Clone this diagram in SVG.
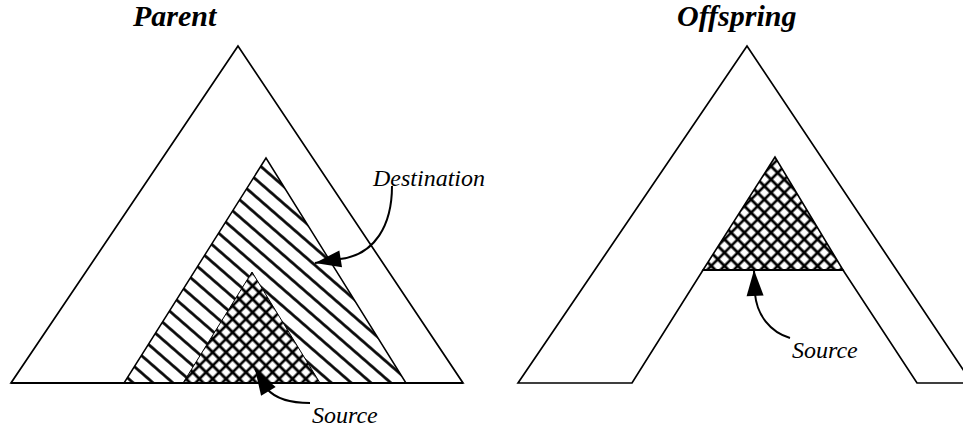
<svg xmlns="http://www.w3.org/2000/svg" width="963" height="429" viewBox="0 0 963 429">
<style>
.outline{fill:#fff;stroke:#000;stroke-width:1.7;stroke-linejoin:miter}
.title{font-family:"Liberation Serif","Times New Roman",serif;font-style:italic;font-weight:bold;font-size:30px;fill:#000}
.lbl{font-family:"Liberation Serif","Times New Roman",serif;font-style:italic;font-size:24px;fill:#000}
.conn{fill:none;stroke:#000;stroke-width:2}
</style>
<defs>
<pattern id="hatch" width="13" height="13" patternUnits="userSpaceOnUse" patternTransform="rotate(41)">
<line x1="0" y1="6.5" x2="13" y2="6.5" stroke="#000" stroke-width="2.7"/>
</pattern>
<pattern id="cross" width="9.4" height="9.4" patternUnits="userSpaceOnUse" patternTransform="rotate(45)">
<path d="M0,4.7 H9.4 M4.7,0 V9.4" stroke="#000" stroke-width="2.6"/>
</pattern>
<marker id="arrow" markerUnits="userSpaceOnUse" markerWidth="28" markerHeight="18" refX="26" refY="8.5" orient="auto" overflow="visible">
<path d="M0,0 L26,8.5 L0,17 Z" fill="#000"/>
</marker>
</defs>
<rect width="963" height="429" fill="#fff"/>

<g id="parent-title"><text class="title" x="133" y="26">Parent</text></g>
<g id="parent-tree">
<polygon class="outline" points="238,46 11,383 463,383"/>
</g>
<g id="destination">
<polygon points="266,158 124,383 406,383" fill="#fff" stroke="none"/>
<polygon points="266,158 124,383 406,383" fill="url(#hatch)" stroke="#000" stroke-width="1.5"/>
</g>
<g id="source-parent">
<polygon points="252,272 183,383 320,383" fill="#fff" stroke="none"/>
<polygon points="252,272 183,383 320,383" fill="url(#cross)" stroke="#000" stroke-width="1"/>
</g>
<line x1="11" y1="383" x2="463" y2="383" stroke="#000" stroke-width="2.2"/>

<g id="offspring-title"><text class="title" x="677" y="26">Offspring</text></g>
<g id="offspring-tree">
<path class="outline" d="M518,383 L747,46 L972,383 L917,383 L843,270 L703,270 L632,383 Z"/>
</g>
<g id="source-offspring">
<polygon points="775,157 703,270 843,270" fill="url(#cross)" stroke="#000" stroke-width="1.6"/>
<line x1="703" y1="270" x2="843" y2="270" stroke="#000" stroke-width="2.2"/>
</g>

<g id="labels">
<text class="lbl" x="373" y="186">Destination</text>
<text class="lbl" x="312" y="423">Source</text>
<text class="lbl" x="792" y="358">Source</text>
</g>

<g id="connectors">
<path class="conn" d="M392,186 C392,225 375,255 340,259 L315,263" marker-end="url(#arrow)"/>
<path class="conn" d="M310,403 C290,403 275,398 267,389 L255,369" marker-end="url(#arrow)"/>
<path class="conn" d="M790,338 C770,332 757,315 755,294 L754,270" marker-end="url(#arrow)"/>
</g>
</svg>
